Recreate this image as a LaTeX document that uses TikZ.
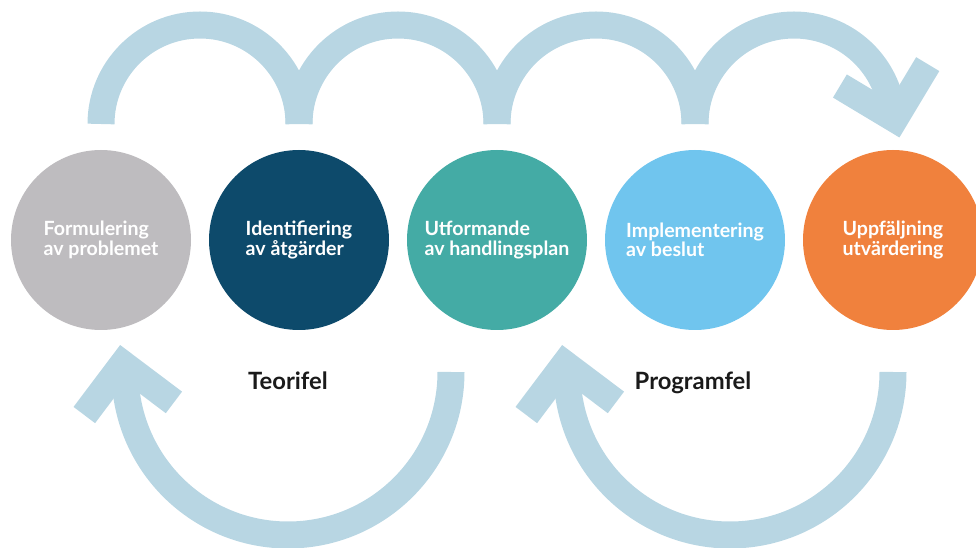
\documentclass[tikz,border=0pt]{standalone}
\usepackage{fontspec}
\setmainfont{Lato}
\usetikzlibrary{positioning}
\definecolor{stepgray}{HTML}{BEBCBF}
\definecolor{stepnavy}{HTML}{0D4A6B}
\definecolor{stepteal}{HTML}{44ABA5}
\definecolor{stepsky}{HTML}{70C5EE}
\definecolor{steporange}{HTML}{F0813D}
\definecolor{loopblue}{HTML}{B8D6E3}
\definecolor{labelblack}{HTML}{1A1A1A}
\newcommand{\phasefont}{\fontsize{9.8}{9.7}\selectfont\bfseries\lineskiplimit=-10pt\relax}
\tikzstyle{phase} = [circle, minimum size=90pt, inner sep=0pt, outer sep=0pt, text=white, align=left,
  font=\phasefont]
\tikzstyle{loop} = [draw=loopblue, line width=13.5pt]
\tikzstyle{chevron} = [draw=loopblue, line width=13.5pt, line join=miter, miter limit=4]
\tikzstyle{errlabel} = [text=labelblack, inner sep=0pt, anchor=base,
  font=\fontsize{11.9}{14}\selectfont\bfseries]

\begin{document}
\begin{tikzpicture}[x=0.5pt, y=0.5pt]
\useasboundingbox (0,0) rectangle (976,547);
\clip (0,0) rectangle (976,547);

\node (f1) [phase, fill=stepgray] at (101,307) {Formulering\\av problemet};
\node (f2) [phase, fill=stepnavy, right=9pt of f1] {Identifiering\\av åtgärder};
\node (f3) [phase, fill=stepteal, right=9pt of f2] {Utformande\\av handlingsplan};
\node (f4) [phase, fill=stepsky, right=9pt of f3] {Implementering\\av beslut};
\node (f5) [phase, fill=steporange, right=9pt of f4] {Uppfäljning\\utvärdering};

% forward loops over the phases
\foreach \n in {1,2,3}
  \draw[loop] ([yshift=13pt]f\n.north) arc[start angle=180, end angle=0, radius=49.5pt];
\draw[loop] ([yshift=13pt]f4.north) arc[start angle=180, end angle=14, radius=49.5pt]
  -- ++(-76:9.75pt) coordinate (tipA);
\draw[chevron] ([shift={(149:32pt)}]tipA) -- (tipA) -- ([shift={(59:32pt)}]tipA);

% feedback loops
\draw[loop] ([xshift=-23pt,yshift=-21pt]f3.south) arc[start angle=0, end angle=-172, radius=81.5pt]
  -- ++(97:15.5pt) coordinate (tipB);
\draw[chevron] ([shift={(233:32pt)}]tipB) -- (tipB) -- ([shift={(323:32pt)}]tipB);
\draw[loop] ([yshift=-21pt]f5.south) arc[start angle=0, end angle=-172, radius=81.5pt]
  -- ++(97:15.5pt) coordinate (tipC);
\draw[chevron] ([shift={(233:32pt)}]tipC) -- (tipC) -- ([shift={(323:32pt)}]tipC);

\node (teori) [errlabel] at (288,157) {Teorifel};
\node (prog) [errlabel] at (693,157) {Programfel};
\end{tikzpicture}
\end{document}
